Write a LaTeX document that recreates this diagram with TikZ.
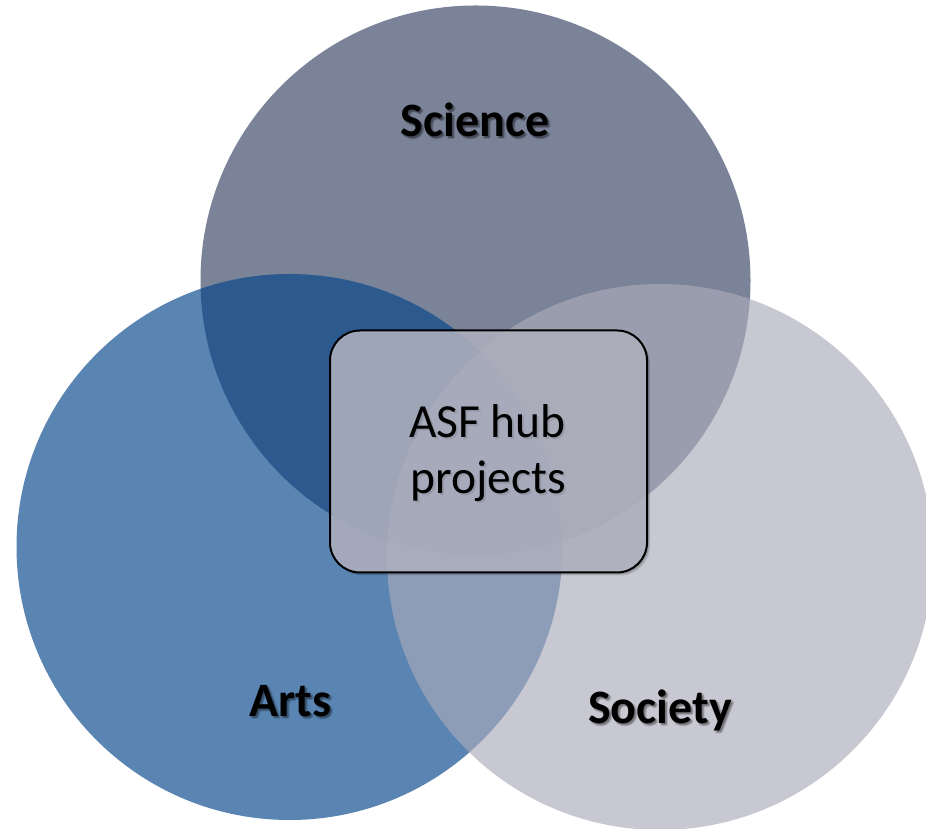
\documentclass[tikz,border=0pt]{standalone}
\usepackage{fontspec}
\setmainfont{Carlito}
\begin{document}
\begin{tikzpicture}[x=1pt,y=1pt]
\definecolor{scicol}{RGB}{52,65,98}
\definecolor{artcol}{RGB}{3,67,137}
\definecolor{soccol}{RGB}{171,171,186}
\definecolor{boxcol}{RGB}{180,182,196}
\tikzset{
  setcircle/.style={fill=#1, opacity=0.65},
  labeltext/.style={font=\fontsize{48}{57}\selectfont\bfseries, anchor=base, inner sep=0pt},
  hubtext/.style={font=\fontsize{47.5}{57}\selectfont, anchor=base, inner sep=0pt},
  shadowtext/.style={text=black, text opacity=0.13},
  hubbox/.style={draw=black, line width=2pt, fill=boxcol, fill opacity=0.85, rounded corners=30pt, minimum width=317pt, minimum height=242pt, inner sep=0pt},
  boxshadow/.style={fill=black, opacity=0.12, rounded corners=30pt, minimum width=317pt, minimum height=242pt, inner sep=0pt}
}
\useasboundingbox (0,0) rectangle (926,829);
\fill[white] (0,0) rectangle (926,829);
\begin{scope}
\clip (0,0) rectangle (926,829);
\fill[setcircle=scicol] (475.5,548.5) circle (275);
\fill[setcircle=artcol] (289.5,282) circle (273);
\fill[setcircle=soccol] (660,272) circle (273);
\end{scope}
% box shadow
\node[boxshadow] (bs1) at (491.5,374.5) {};
\node[boxshadow] (bs2) at (490.5,375.5) {};
\node[hubbox] (hub) at (488.5,377.5) {};
% label shadows
\foreach \dx/\dy [count=\i] in {1/-2,2/-3,3/-2,2/-1.5} {
  \node[labeltext, shadowtext] (ss\i) at (475+\dx,692+\dy) {Science};
  \node[labeltext, shadowtext] (as\i) at (290.5+\dx,112.5+\dy) {Arts};
  \node[labeltext, shadowtext] (os\i) at (660+\dx,105.5+\dy) {Society};
}
\node[labeltext] (sci) at (475,692) {Science};
\node[labeltext] (arts) at (290.5,112.5) {Arts};
\node[labeltext] (soc) at (660,105.5) {Society};
\node[hubtext, text=black, text opacity=0.1] (h1s) at (489.5,389.5) {ASF hub};
\node[hubtext, text=black, text opacity=0.1] (h2s) at (490.5,333.5) {projects};
\node[hubtext] (h1) at (487.5,391) {ASF hub};
\node[hubtext] (h2) at (488.5,335) {projects};
\end{tikzpicture}
\end{document}
